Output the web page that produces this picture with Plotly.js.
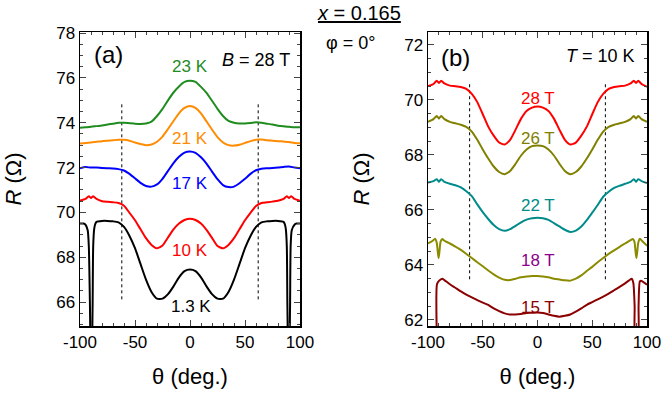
<!DOCTYPE html>
<html lang="en">
<head>
    <meta charset="UTF-8">
    <title>R vs theta, x = 0.165</title>
    <script src="https://cdn.plot.ly/plotly-3.0.0.min.js" charset="utf-8"></script>
    <style>
        body { margin: 0; padding: 0; background: #fff; }
        #plot { width: 664px; height: 397px; }
    </style>
</head>
<body>
<div id="plot"></div>
<script>
    // Angle grids (deg.)
    const thetaGrid = [-100, -95, -90, -85, -80, -75, -70, -65, -60, -55, -50, -45, -40, -35, -30, -25, -20, -15, -10, -5,
        0, 5, 10, 15, 20, 25, 30, 35, 40, 45, 50, 55, 60, 65, 70, 75, 80, 85, 90, 95, 100];
    const thetaNotch = [-100, -95, -92, -90, -88, -85, -80, -75, -70, -65, -60, -55, -50, -45, -40, -35, -30, -25, -20, -15, -10, -5,
        0, 5, 10, 15, 20, 25, 30, 35, 40, 45, 50, 55, 60, 65, 70, 75, 80, 85, 88, 90, 92, 95, 100];
    const theta13 = [-100, -97, -95, -93, -92, -91, -90.5, -89.5, -89, -88.5, -88, -87, -86, -85, -80, -75, -70, -65, -60, -55, -50, -45, -40, -35, -30, -25, -20, -15, -10, -5,
        0, 5, 10, 15, 20, 25, 30, 35, 40, 45, 50, 55, 60, 65, 70, 75, 80, 85, 86, 87, 88, 88.5, 89, 89.5, 90.5, 91, 91.5, 92.5, 95, 97, 100];
    const theta18 = [-100, -96, -93.5, -92, -91, -90.3, -89.5, -88.5, -87, -85, -80, -75, -70, -65, -60, -55, -50, -45, -40, -35, -30, -25, -20, -15, -10, -5,
        0, 5, 10, 15, 20, 25, 30, 35, 40, 45, 50, 55, 60, 65, 70, 75, 80, 85, 87, 88.5, 89.5, 90.3, 91, 92, 93.5, 96, 100];
    const theta15 = [-92, -91.8, -90, -87, -85, -80, -75, -70, -65, -60, -55, -50, -45, -40, -35, -30, -25, -20, -15, -10, -5,
        0, 5, 10, 15, 20, 25, 30, 35, 40, 45, 50, 55, 60, 65, 70, 75, 80, 85, 86, 87.5, 88.7, 89.2, 91.8, 92.3, 93.5, 95, 100];

    // (a) B = 28 T, R (Ohm) at several temperatures
    const r23K = [73.78, 73.80, 73.82, 73.85, 73.88, 73.92, 73.96, 74.00, 74.00, 73.98, 73.96, 73.95, 73.97, 74.05, 74.30, 74.62, 75.00, 75.35, 75.62, 75.82,
        75.88, 75.82, 75.60, 75.33, 74.98, 74.62, 74.30, 74.08, 74.00, 73.97, 73.97, 73.99, 74.02, 74.00, 73.96, 73.92, 73.87, 73.84, 73.82, 73.80, 73.80];
    const r21K = [73.07, 73.10, 73.12, 73.15, 73.18, 73.20, 73.22, 73.24, 73.24, 73.20, 73.12, 73.05, 73.00, 73.03, 73.15, 73.38, 73.72, 74.08, 74.42, 74.66,
        74.75, 74.66, 74.42, 74.06, 73.70, 73.36, 73.12, 73.00, 72.98, 73.02, 73.10, 73.18, 73.24, 73.25, 73.22, 73.20, 73.18, 73.16, 73.14, 73.10, 73.08];
    const r17K = [71.97, 72.02, 72.00, 72.00, 71.98, 71.97, 71.96, 71.93, 71.87, 71.72, 71.52, 71.32, 71.18, 71.15, 71.25, 71.50, 71.85, 72.20, 72.48, 72.67,
        72.72, 72.66, 72.46, 72.18, 71.82, 71.48, 71.22, 71.13, 71.15, 71.30, 71.50, 71.72, 71.88, 71.95, 71.97, 71.98, 72.00, 72.03, 72.05, 72.00, 71.97];
    const r10K = [70.53, 70.60, 70.72, 70.64, 70.72, 70.60, 70.50, 70.47, 70.45, 70.42, 70.30, 69.98, 69.65, 69.25, 68.85, 68.55, 68.40, 68.52, 68.88, 69.24, 69.50, 69.66,
        69.72, 69.66, 69.50, 69.22, 68.86, 68.50, 68.40, 68.55, 68.85, 69.25, 69.65, 69.98, 70.28, 70.42, 70.45, 70.48, 70.52, 70.60, 70.72, 70.64, 70.72, 70.60, 70.52];
    const r1p3K = [69.50, 69.50, 69.45, 69.20, 68.50, 66.00, 64.00, 62.00, 64.00, 66.00, 68.50, 69.30, 69.50, 69.58, 69.62, 69.62, 69.60, 69.55, 69.35, 68.95, 68.40, 67.70, 67.00, 66.45, 66.15, 66.15, 66.35, 66.70, 67.10, 67.38,
        67.45, 67.38, 67.10, 66.70, 66.35, 66.15, 66.15, 66.45, 67.00, 67.70, 68.40, 68.95, 69.35, 69.55, 69.60, 69.62, 69.62, 69.58, 69.50, 69.30, 68.50, 66.00, 64.00, 62.00, 64.00, 66.00, 68.50, 69.20, 69.45, 69.50, 69.50];

    // (b) T = 10 K, R (Ohm) at several fields
    const r28T = [70.50, 70.58, 70.70, 70.62, 70.70, 70.60, 70.52, 70.50, 70.47, 70.40, 70.22, 69.92, 69.48, 69.03, 68.70, 68.45, 68.38, 68.55, 68.92, 69.32, 69.60, 69.72,
        69.76, 69.72, 69.60, 69.32, 68.92, 68.55, 68.38, 68.45, 68.70, 69.03, 69.48, 69.92, 70.22, 70.40, 70.47, 70.50, 70.52, 70.60, 70.70, 70.62, 70.70, 70.58, 70.48];
    const r26T = [69.20, 69.30, 69.42, 69.32, 69.42, 69.30, 69.20, 69.15, 69.10, 69.02, 68.85, 68.55, 68.20, 67.87, 67.58, 67.38, 67.30, 67.42, 67.68, 67.98, 68.20, 68.32,
        68.34, 68.32, 68.20, 67.98, 67.68, 67.42, 67.30, 67.38, 67.58, 67.87, 68.20, 68.55, 68.85, 69.02, 69.10, 69.15, 69.20, 69.30, 69.42, 69.32, 69.42, 69.30, 69.20];
    const r22T = [67.00, 67.05, 67.12, 67.02, 67.12, 67.02, 66.95, 66.90, 66.82, 66.68, 66.50, 66.20, 65.92, 65.67, 65.45, 65.30, 65.24, 65.30, 65.42, 65.55, 65.65, 65.70,
        65.72, 65.70, 65.64, 65.52, 65.40, 65.28, 65.20, 65.25, 65.40, 65.63, 65.90, 66.18, 66.48, 66.66, 66.80, 66.88, 66.95, 67.02, 67.12, 67.02, 67.12, 67.05, 66.98];
    const r18T = [64.78, 64.87, 64.95, 64.80, 64.45, 64.25, 64.50, 64.85, 64.94, 64.88, 64.78, 64.67, 64.55, 64.40, 64.25, 64.10, 63.95, 63.80, 63.66, 63.54, 63.46, 63.45, 63.50, 63.55, 63.58, 63.60,
        63.60, 63.58, 63.55, 63.50, 63.47, 63.44, 63.43, 63.50, 63.62, 63.78, 63.93, 64.10, 64.25, 64.40, 64.53, 64.66, 64.78, 64.90, 64.94, 64.85, 64.50, 64.25, 64.45, 64.80, 64.95, 64.85, 64.70];
    const r15T = [61.50, 63.30, 63.42, 63.50, 63.45, 63.30, 63.17, 63.04, 62.92, 62.82, 62.72, 62.63, 62.55, 62.42, 62.32, 62.24, 62.20, 62.20, 62.22, 62.25, 62.26,
        62.27, 62.25, 62.20, 62.15, 62.12, 62.15, 62.20, 62.30, 62.42, 62.55, 62.65, 62.75, 62.85, 62.96, 63.08, 63.20, 63.33, 63.48, 63.50, 63.35, 62.50, 61.50, 61.50, 62.50, 63.40, 63.42, 63.28];

    // dotted guides at +/-62 deg
    const guideTheta = [-62, 62];
    const guideA = [66.12, 74.93];
    const guideB = [63.48, 70.67];

    // tick labels (plain hyphen, as in the original figure)
    const xTickVals = [-100, -50, 0, 50, 100];
    const xTickText = ['-100', '-50', '0', '50', '100'];
    const yTicksA = [66, 68, 70, 72, 74, 76, 78];
    const yTicksB = [62, 64, 66, 68, 70, 72];

    const FONT = '"Liberation Sans", Arial, Helvetica, sans-serif';

    function curve(x, y, color, xa, ya) {
        return {
            x: x, y: y, xaxis: xa, yaxis: ya, type: 'scatter', mode: 'lines',
            line: { color: color, width: 2, shape: 'spline', smoothing: 0.6 },
            hoverinfo: 'skip', showlegend: false
        };
    }

    function guide(yr, xa, ya) {
        return {
            x: [guideTheta[0], guideTheta[0], null, guideTheta[1], guideTheta[1]],
            y: [yr[0], yr[1], null, yr[0], yr[1]],
            xaxis: xa, yaxis: ya, type: 'scatter', mode: 'lines',
            line: { color: '#000', width: 1, dash: 'dot' },
            hoverinfo: 'skip', showlegend: false
        };
    }

    const traces = [
        guide(guideA, 'x', 'y'),
        curve(thetaGrid, r23K, '#1f8c1f', 'x', 'y'),
        curve(thetaGrid, r21K, '#ff8c00', 'x', 'y'),
        curve(thetaGrid, r17K, '#0000ff', 'x', 'y'),
        curve(thetaNotch, r10K, '#ff0000', 'x', 'y'),
        curve(theta13, r1p3K, '#000000', 'x', 'y'),
        guide(guideB, 'x2', 'y2'),
        curve(thetaNotch, r28T, '#ff0000', 'x2', 'y2'),
        curve(thetaNotch, r26T, '#808000', 'x2', 'y2'),
        curve(thetaNotch, r22T, '#008b8b', 'x2', 'y2'),
        curve(theta18, r18T, '#8b8b00', 'x2', 'y2'),
        curve(theta15, r15T, '#8b0000', 'x2', 'y2')
    ];

    function xAxis(domain, anchor) {
        return {
            domain: domain, anchor: anchor, range: [-100, 100],
            tickvals: xTickVals, ticktext: xTickText, ticks: 'inside', ticklen: 6, tickwidth: 1,
            minor: { dtick: 10, ticks: 'inside', ticklen: 3, tickwidth: 1 },
            showline: true, linewidth: 1.5, linecolor: '#000', mirror: 'allticks',
            showgrid: false, zeroline: false,
            tickfont: { family: FONT, size: 17, color: '#000' },
            title: { text: 'θ (deg.)', font: { family: FONT, size: 22, color: '#000' }, standoff: 17 }
        };
    }

    function yAxis(domain, anchor, range, ticks) {
        return {
            domain: domain, anchor: anchor, range: range,
            tickvals: ticks, ticks: 'inside', ticklen: 6, tickwidth: 1,
            minor: { dtick: 0.5, ticks: 'inside', ticklen: 3, tickwidth: 1 },
            showline: true, linewidth: 1.5, linecolor: '#000', mirror: 'allticks',
            showgrid: false, zeroline: false,
            tickfont: { family: FONT, size: 17, color: '#000' },
            title: { text: '<i>R</i> (Ω)', font: { family: FONT, size: 22, color: '#000' }, standoff: 28 }
        };
    }

    function label(text, x, y, color, xa, ya, size, anchor) {
        return {
            text: text, x: x, y: y, xref: xa, yref: ya, showarrow: false,
            xanchor: anchor || 'center', yanchor: 'middle',
            font: { family: FONT, size: size || 17, color: color }
        };
    }

    const annotations = [
        label('23 K', 0, 76.53, '#1f8c1f', 'x', 'y'),
        label('21 K', 0, 73.3, '#ff8c00', 'x', 'y'),
        label('17 K', 0, 71.3, '#0000ff', 'x', 'y'),
        label('10 K', 0, 68.3, '#ff0000', 'x', 'y'),
        label('1.3 K', 1, 65.8, '#000000', 'x', 'y'),
        label('(a)', -74, 77.06, '#000', 'x', 'y', 24),
        label('<i>B</i> = 28 T', 93, 76.8, '#000', 'x', 'y', 18, 'right'),
        label('28 T', 0, 70.07, '#ff0000', 'x2', 'y2'),
        label('26 T', 0, 68.6, '#808000', 'x2', 'y2'),
        label('22 T', 0, 66.15, '#008b8b', 'x2', 'y2'),
        label('18 T', 0, 64.15, '#8b008b', 'x2', 'y2'),
        label('15 T', 0, 62.47, '#8b0000', 'x2', 'y2'),
        label('(b)', -75.3, 71.56, '#000', 'x2', 'y2', 24),
        label('<i>T</i> = 10 K', 91, 71.6, '#000', 'x2', 'y2', 18, 'right'),
        {
            text: '<u><i>x</i> = 0.165</u>', x: 359 / 664, y: 1 - 13 / 397, xref: 'paper', yref: 'paper',
            showarrow: false, xanchor: 'center', yanchor: 'middle',
            font: { family: FONT, size: 20, color: '#000' }
        },
        {
            text: 'φ = 0°', x: 350 / 664, y: 1 - 43 / 397, xref: 'paper', yref: 'paper',
            showarrow: false, xanchor: 'center', yanchor: 'middle',
            font: { family: FONT, size: 18, color: '#000' }
        }
    ];

    const yDomain = [71 / 397, 365 / 397];

    const layout = {
        width: 664, height: 397,
        margin: { l: 0, r: 0, t: 0, b: 0, pad: 0 },
        paper_bgcolor: '#fff', plot_bgcolor: '#fff',
        showlegend: false,
        xaxis: xAxis([80 / 664, 300 / 664], 'y'),
        yaxis: yAxis(yDomain, 'x', [64.93, 78.05], yTicksA),
        xaxis2: xAxis([428 / 664, 647 / 664], 'y2'),
        yaxis2: yAxis(yDomain, 'x2', [61.78, 72.47], yTicksB),
        annotations: annotations
    };

    Plotly.newPlot('plot', traces, layout, { staticPlot: true, displayModeBar: false });
</script>
</body>
</html>
